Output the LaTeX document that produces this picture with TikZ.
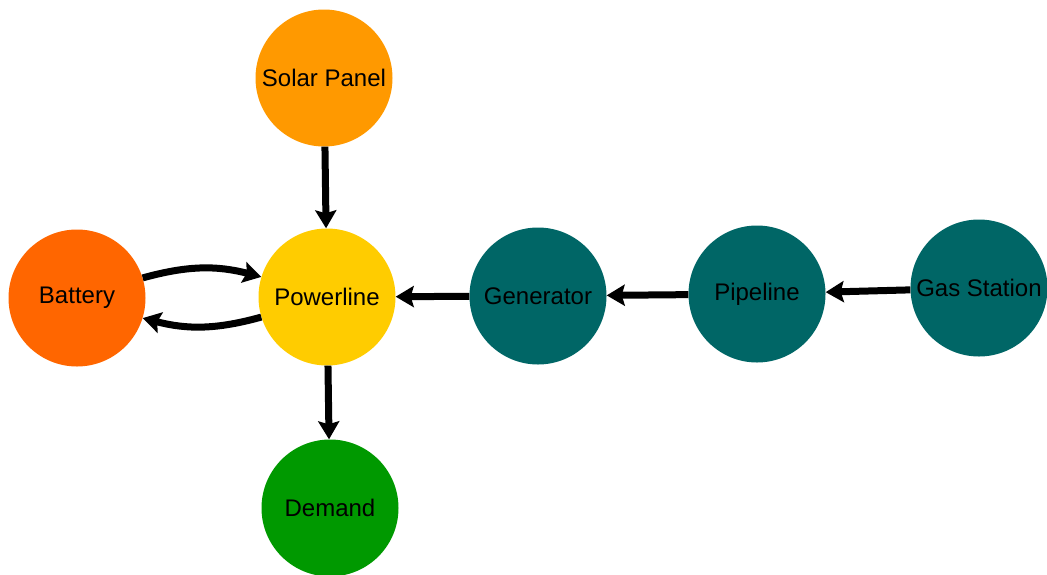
\documentclass[tikz,border=0pt]{standalone}
\usepackage{fontspec}
\setmainfont{Liberation Sans}
\usetikzlibrary{arrows.meta}
\definecolor{solarc}{HTML}{FF9900}
\definecolor{powc}{HTML}{FFCC00}
\definecolor{batc}{HTML}{FF6600}
\definecolor{demc}{HTML}{009900}
\definecolor{gasc}{HTML}{006666}
\tikzset{
  unit/.style={circle, minimum size=137pt, inner sep=0pt, text=black,
    font=\fontsize{24}{27}\selectfont},
  flow/.style={line width=7pt, draw=black,
    -{Stealth[length=18pt, width=21pt, inset=3pt]}},
}
\begin{document}
\begin{tikzpicture}[x=1pt, y=-1pt]
\useasboundingbox (0,0) rectangle (1047,574);
\node[unit, fill=solarc] (solar) at (324,78) {Solar Panel};
\node[unit, fill=powc]   (pow)   at (327,297) {Powerline};
\node[unit, fill=batc]   (bat)   at (77,298) {Battery};
\node[unit, fill=demc]   (dem)   at (330,508) {Demand};
\node[unit, fill=gasc]   (gen)   at (538,296) {Generator};
\node[unit, fill=gasc]   (pipe)  at (757,294) {Pipeline};
\node[unit, fill=gasc]   (gas)   at (979,288) {Gas Station};

\draw[flow] (solar) -- (pow);
\draw[flow] (pow) -- (dem);
\draw[flow] (gen) -- (pow);
\draw[flow] (pipe) -- (gen);
\draw[flow] (gas) -- (pipe);
\draw[flow] (bat.17) to[bend left=15] (pow.163);
\draw[flow] (pow.197) to[bend left=15] (bat.-17);
\end{tikzpicture}
\end{document}
